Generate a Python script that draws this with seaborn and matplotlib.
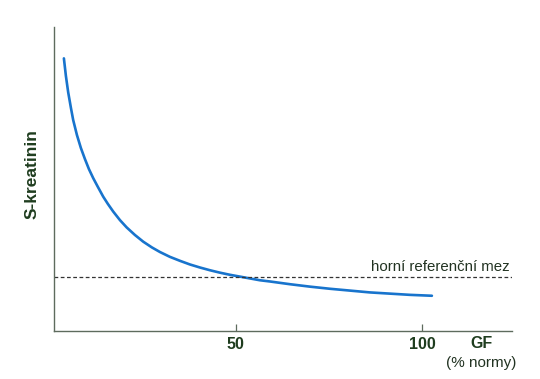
import matplotlib
matplotlib.use("Agg")
import matplotlib.pyplot as plt
import seaborn as sns
import pandas as pd

# GF (% normy) vs S-kreatinin (arbitrary units)
gf = [3.76, 4.30, 4.92, 5.65, 6.26, 7.26, 8.33, 9.41, 10.48, 11.64, 12.90,
      14.33, 15.59, 17.02, 18.82, 20.62, 22.85, 25.08, 27.42, 29.57, 32.26,
      34.95, 37.63, 40.32, 43.01, 45.70, 48.39, 51.08, 53.76, 56.45, 59.14,
      64.52, 69.89, 75.27, 80.65, 86.02, 91.40, 96.77, 102.69]
s_kreatinin = [8.97, 8.39, 7.85, 7.34, 6.94, 6.45, 6.02, 5.66, 5.33, 5.03,
               4.74, 4.42, 4.18, 3.93, 3.65, 3.41, 3.16, 2.94, 2.75, 2.60,
               2.44, 2.31, 2.19, 2.09, 2.00, 1.92, 1.85, 1.79, 1.73, 1.67,
               1.63, 1.54, 1.46, 1.39, 1.33, 1.27, 1.23, 1.19, 1.16]
ref_limit = 1.78
xticks = [50, 100]
xtick_labels = ["50", "100"]
ref_label = "horní referenční mez"
ylabel = "S-kreatinin"
xlabel_main = "GF"
xlabel_sub = "(% normy)"

sns.set_style("white")
plt.rcParams['font.family'] = ['Liberation Sans', 'DejaVu Sans']

GREEN = "#1f3d1f"
SPINE = "#5e6b5e"
BLUE = "#1874cd"

fig = plt.figure(figsize=(5.4, 3.79), dpi=100)
ax = fig.add_axes([0.1, 0.1266, 0.848, 0.802])

df = pd.DataFrame({"GF": gf, "S": s_kreatinin})
sns.lineplot(data=df, x="GF", y="S", ax=ax, color=BLUE, lw=1.9)

ax.axhline(ref_limit, color="#333333", lw=0.9, ls=(0, (3, 2)))
ax.text(123.7, 2.1, ref_label, ha="right", va="center", fontsize=10.8,
        color="#223322")

ax.set_xlim(1.1, 124.2)
ax.set_ylim(0, 10)
ax.set_xticks(xticks)
ax.set_xticklabels(xtick_labels, fontsize=11.5, fontweight="bold", color=GREEN)
ax.set_yticks([])
ax.set_xlabel("")
ax.set_ylabel("")
ax.tick_params(axis="x", direction="in", length=5, width=0.9, color=SPINE,
               pad=4, bottom=True)

for s in ["top", "right"]:
    ax.spines[s].set_visible(False)
for s in ["left", "bottom"]:
    ax.spines[s].set_color(SPINE)
    ax.spines[s].set_linewidth(1.0)

fig.text(481.7 / 540, 1 - 344 / 379, xlabel_main, ha="center", va="center",
         fontsize=11.5, fontweight="bold", color=GREEN)
fig.text(481 / 540, 1 - 363 / 379, xlabel_sub, ha="center", va="center",
         fontsize=11, color="#223322")
fig.text(32 / 540, 1 - 174 / 379, ylabel, ha="center", va="center",
         rotation=90, fontsize=12.5, fontweight="bold", color=GREEN)

fig.savefig("out.png", dpi=100, facecolor="white")
